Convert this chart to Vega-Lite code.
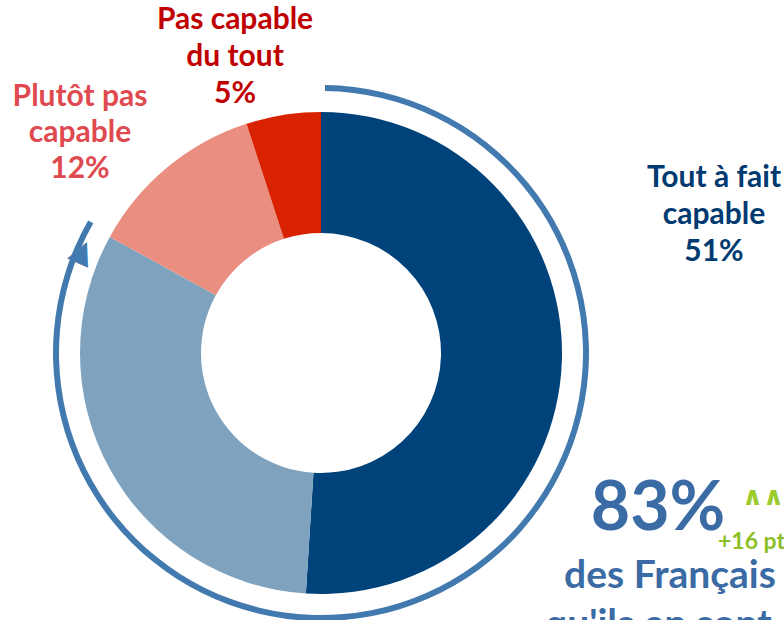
{
  "$schema": "https://vega.github.io/schema/vega-lite/v6.json",
  "width": 642,
  "height": 706,
  "autosize": {"type": "none"},
  "padding": {"left": 0, "top": 0, "right": 142, "bottom": -86},
  "background": "white",
  "config": {"view": {"stroke": null}, "text": {"font": "Lato", "fontWeight": "bold"}},
  "datasets": {
    "reponses": [
      {"reponse": "Tout à fait capable", "l1": "Tout à fait", "l2": "capable", "pct": 51, "rang": 1},
      {"reponse": "Plutôt capable", "l1": "Plutôt", "l2": "capable", "pct": 32, "rang": 2},
      {"reponse": "Plutôt pas capable", "l1": "Plutôt pas", "l2": "capable", "pct": 12, "rang": 3},
      {"reponse": "Pas capable du tout", "l1": "Pas capable", "l2": "du tout", "pct": 5, "rang": 4}
    ],
    "notes": [
      {"cle": "evolution", "texte": "+16 pts"},
      {"cle": "icone", "texte": "∧∧∧"},
      {"cle": "sous_titre", "texte": "des Français"},
      {"cle": "suite", "texte": "qu'ils en sont capables"}
    ]
  },
  "data": {"name": "reponses"},
  "layer": [
    {
      "mark": {"type": "arc", "radius": 241, "radius2": 120, "stroke": null},
      "encoding": {
        "theta": {"field": "pct", "type": "quantitative", "stack": true},
        "order": {"field": "rang", "type": "quantitative"},
        "color": {
          "field": "reponse",
          "type": "nominal",
          "scale": {
            "domain": ["Tout à fait capable", "Plutôt capable", "Plutôt pas capable", "Pas capable du tout"],
            "range": ["#00427A", "#7FA3BF", "#EA8E80", "#D92200"]
          },
          "legend": null
        }
      }
    },
    {
      "transform": [
        {"filter": "datum.rang <= 2"},
        {"aggregate": [{"op": "sum", "field": "pct", "as": "total"}]}
      ],
      "mark": {"type": "arc", "radius": 268, "radius2": 262, "color": "#4279AF", "thetaOffset": 0.015, "theta2Offset": -0.12},
      "encoding": {"theta": {"field": "total", "type": "quantitative", "stack": true}}
    },
    {
      "transform": [
        {"filter": "datum.rang <= 2"},
        {"aggregate": [{"op": "sum", "field": "pct", "as": "total"}]}
      ],
      "mark": {"type": "text", "text": "▲", "font": "DejaVu Sans", "fontWeight": "normal", "fontSize": 30, "angle": 24, "radius": 262, "align": "center", "baseline": "middle", "color": "#4279AF", "dx": 2, "dy": 26},
      "encoding": {"theta": {"field": "total", "type": "quantitative", "stack": null}}
    },
    {
      "transform": [
        {"filter": "datum.rang == 4"},
        {"calculate": "[datum.l1, datum.l2, datum.pct + '%']", "as": "lignes"}
      ],
      "mark": {"type": "text", "fontSize": 30, "lineHeight": 37, "color": "#C00000", "align": "center", "baseline": "middle", "dx": -86, "dy": -333},
      "encoding": {"text": {"field": "lignes", "type": "nominal"}}
    },
    {
      "transform": [
        {"filter": "datum.rang == 3"},
        {"calculate": "[datum.l1, datum.l2, datum.pct + '%']", "as": "lignes"}
      ],
      "mark": {"type": "text", "fontSize": 30, "lineHeight": 36, "color": "#DE4A4F", "align": "center", "baseline": "middle", "dx": -241, "dy": -256},
      "encoding": {"text": {"field": "lignes", "type": "nominal"}}
    },
    {
      "transform": [
        {"filter": "datum.rang == 1"},
        {"calculate": "[datum.l1, datum.l2, datum.pct + '%']", "as": "lignes"}
      ],
      "mark": {"type": "text", "fontSize": 30, "lineHeight": 37, "color": "#003A70", "align": "center", "baseline": "middle", "dx": 393, "dy": -175},
      "encoding": {"text": {"field": "lignes", "type": "nominal"}}
    },
    {
      "transform": [
        {"filter": "datum.rang <= 2"},
        {"aggregate": [{"op": "sum", "field": "pct", "as": "total"}]},
        {"calculate": "datum.total + '%'", "as": "lib"}
      ],
      "mark": {"type": "text", "fontSize": 68, "color": "#3A6BA5", "align": "center", "baseline": "alphabetic", "dx": 337, "dy": 177},
      "encoding": {"text": {"field": "lib", "type": "nominal"}}
    },
    {
      "data": {"name": "notes"},
      "transform": [{"filter": "datum.cle == 'evolution'"}],
      "mark": {"type": "text", "fontSize": 23, "color": "#8CBF26", "align": "left", "baseline": "alphabetic", "dx": 397, "dy": 196},
      "encoding": {"text": {"field": "texte", "type": "nominal"}}
    },
    {
      "data": {"name": "notes"},
      "transform": [{"filter": "datum.cle == 'icone'"}],
      "mark": {"type": "text", "font": "DejaVu Sans", "fontWeight": "bold", "fontSize": 26, "color": "#9CCB2E", "align": "left", "baseline": "middle", "dx": 421, "dy": 144},
      "encoding": {"text": {"field": "texte", "type": "nominal"}}
    },
    {
      "data": {"name": "notes"},
      "transform": [{"filter": "datum.cle == 'sous_titre'"}],
      "mark": {"type": "text", "fontSize": 39, "color": "#3A6BA5", "align": "center", "baseline": "alphabetic", "dx": 349, "dy": 235},
      "encoding": {"text": {"field": "texte", "type": "nominal"}}
    },
    {
      "data": {"name": "notes"},
      "transform": [{"filter": "datum.cle == 'suite'"}],
      "mark": {"type": "text", "fontSize": 39, "color": "#3A6BA5", "align": "left", "baseline": "alphabetic", "dx": 224, "dy": 284},
      "encoding": {"text": {"field": "texte", "type": "nominal"}}
    }
  ]
}
